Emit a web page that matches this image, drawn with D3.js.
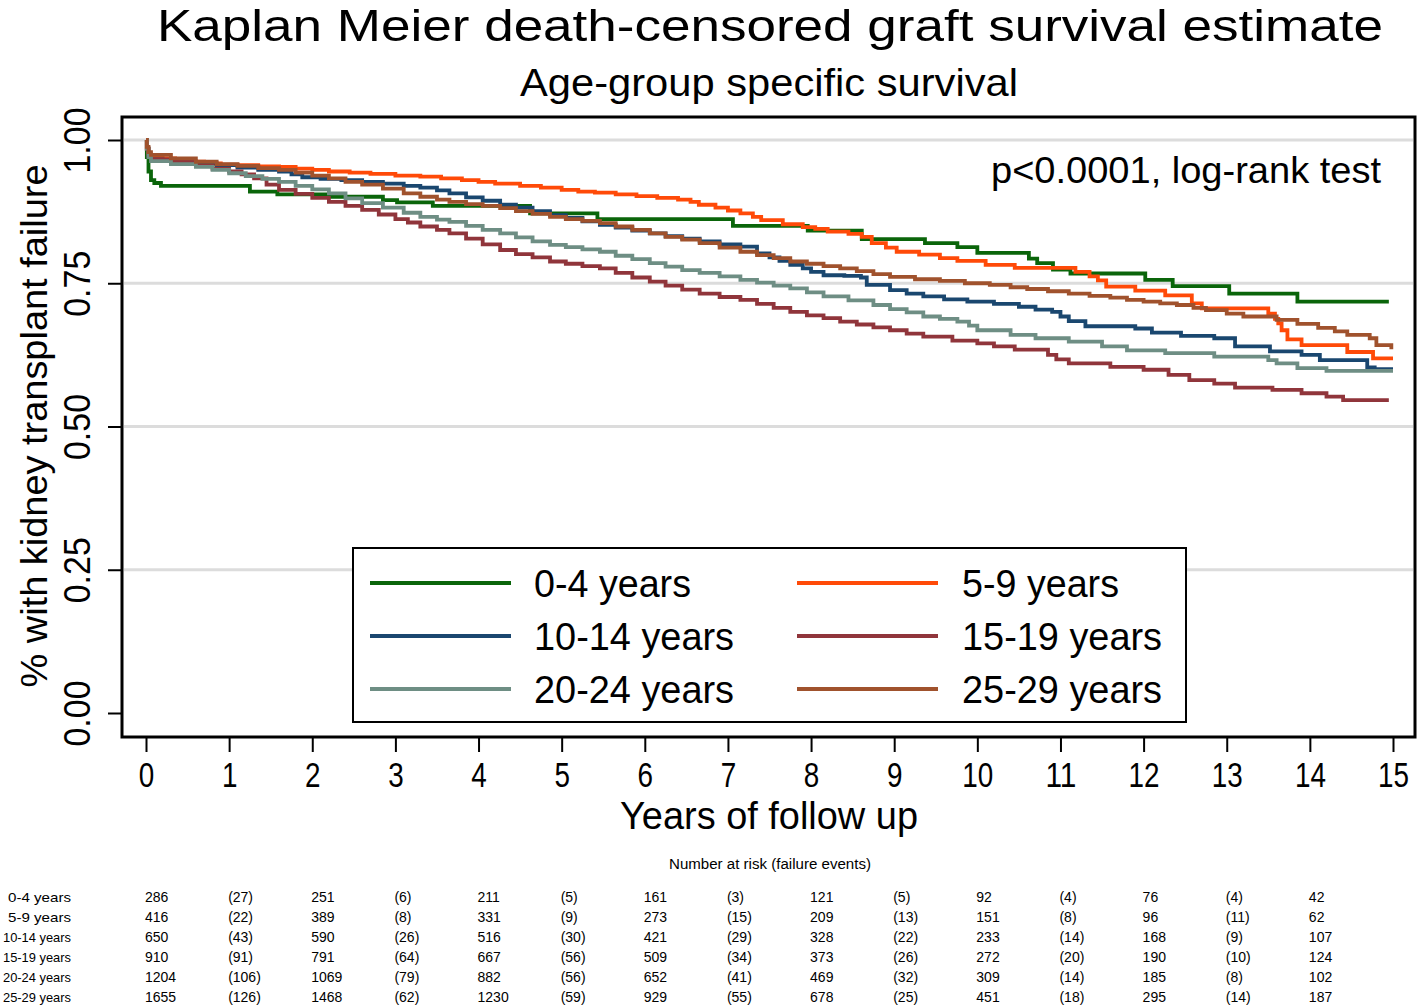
<!DOCTYPE html>
<html><head><meta charset="utf-8">
<script src="https://cdn.jsdelivr.net/npm/d3@7"></script>
<style>
body{margin:0;background:#fff}
svg{display:block}
text{font-family:"Liberation Sans",Arial,Helvetica,sans-serif;fill:#000}
</style>
</head><body>
<svg id="c" width="1418" height="1006"></svg>
<script>
// ---------- data ----------
const groups = ["0-4 years","5-9 years","10-14 years","15-19 years","20-24 years","25-29 years"];
const colors = ["#0a650a","#ff4a08","#1a476f","#90353b","#6e8e84","#a0522d"];

const km04 = [[0,1],[0.01,0.97],[0.03,0.945],[0.06,0.93],[0.1,0.925],[0.18,0.92],[1.25,0.91],[1.58,0.905],[2.21,0.901],[2.85,0.895],[3.02,0.891],[3.45,0.885],[4.62,0.872],[5.43,0.862],[7.06,0.85],[7.96,0.842],[8.61,0.827],[9.37,0.82],[9.76,0.813],[10.0,0.803],[10.62,0.793],[10.72,0.785],[10.91,0.774],[11.12,0.767],[12.02,0.756],[12.35,0.745],[13.03,0.732],[13.85,0.718],[14.95,0.718]];
const km59 = [[0,1],[0.01,0.985],[0.03,0.975],[0.06,0.971],[0.2,0.968],[0.35,0.965],[0.5,0.962],[0.7,0.959],[0.9,0.957],[1.1,0.956],[1.35,0.954],[1.6,0.953],[1.8,0.95],[2.0,0.948],[2.2,0.945],[2.45,0.943],[2.7,0.941],[3.0,0.938],[3.3,0.936],[3.55,0.933],[3.8,0.93],[4.0,0.927],[4.2,0.924],[4.5,0.92],[4.75,0.917],[5.0,0.913],[5.2,0.91],[5.4,0.908],[5.65,0.905],[5.9,0.902],[6.15,0.899],[6.4,0.896],[6.55,0.892],[6.65,0.887],[6.85,0.882],[7.0,0.877],[7.15,0.872],[7.3,0.866],[7.4,0.86],[7.66,0.853],[7.9,0.848],[8.05,0.845],[8.2,0.84],[8.45,0.836],[8.61,0.831],[8.73,0.82],[8.9,0.812],[9.03,0.805],[9.3,0.8],[9.55,0.794],[9.76,0.789],[10.1,0.782],[10.45,0.777],[11.18,0.77],[11.35,0.762],[11.45,0.755],[11.55,0.744],[11.9,0.737],[12.26,0.729],[12.58,0.715],[12.7,0.706],[13.5,0.697],[13.58,0.688],[13.62,0.68],[13.66,0.668],[13.73,0.652],[13.9,0.642],[14.45,0.63],[14.76,0.619],[15,0.619]];
const km1014 = [[0,1],[0.01,0.985],[0.03,0.972],[0.06,0.966],[0.2,0.965],[0.4,0.962],[0.6,0.959],[0.85,0.956],[1.1,0.952],[1.35,0.948],[1.6,0.945],[1.75,0.94],[1.88,0.935],[2.1,0.932],[2.35,0.93],[2.6,0.927],[2.85,0.924],[3.1,0.92],[3.3,0.917],[3.5,0.912],[3.65,0.907],[3.85,0.9],[4.05,0.894],[4.26,0.887],[4.45,0.882],[4.65,0.876],[4.86,0.869],[5.05,0.864],[5.25,0.858],[5.46,0.852],[5.65,0.847],[5.85,0.842],[6.06,0.837],[6.25,0.832],[6.45,0.828],[6.66,0.823],[6.9,0.818],[7.15,0.814],[7.35,0.802],[7.5,0.795],[7.62,0.789],[7.75,0.782],[7.9,0.776],[8.0,0.77],[8.15,0.764],[8.4,0.763],[8.6,0.76],[8.67,0.747],[8.95,0.738],[9.15,0.732],[9.35,0.727],[9.6,0.722],[9.88,0.718],[10.2,0.714],[10.5,0.709],[10.7,0.704],[10.9,0.7],[11.0,0.692],[11.1,0.684],[11.3,0.675],[11.9,0.671],[12.1,0.664],[12.45,0.658],[12.85,0.654],[13.1,0.64],[13.52,0.631],[13.9,0.625],[14.12,0.616],[14.69,0.603],[14.78,0.6],[15,0.6]];
const km1519 = [[0,1],[0.01,0.985],[0.03,0.972],[0.06,0.966],[0.3,0.962],[0.6,0.955],[0.8,0.95],[1.0,0.945],[1.15,0.94],[1.3,0.933],[1.45,0.922],[1.6,0.913],[1.8,0.906],[2.0,0.899],[2.2,0.892],[2.4,0.885],[2.6,0.878],[2.8,0.87],[3.0,0.862],[3.15,0.856],[3.3,0.849],[3.5,0.843],[3.65,0.837],[3.85,0.828],[4.05,0.818],[4.26,0.808],[4.45,0.801],[4.65,0.795],[4.86,0.788],[5.05,0.784],[5.25,0.78],[5.46,0.776],[5.65,0.768],[5.85,0.76],[6.06,0.753],[6.25,0.746],[6.45,0.739],[6.66,0.732],[6.9,0.726],[7.15,0.721],[7.35,0.714],[7.55,0.707],[7.75,0.7],[7.95,0.694],[8.15,0.689],[8.35,0.683],[8.55,0.678],[8.75,0.673],[8.95,0.668],[9.15,0.662],[9.35,0.657],[9.7,0.65],[10.0,0.645],[10.2,0.64],[10.45,0.634],[10.85,0.625],[10.95,0.617],[11.1,0.61],[11.6,0.604],[12.0,0.599],[12.3,0.59],[12.55,0.581],[12.85,0.575],[13.1,0.568],[13.55,0.564],[13.9,0.558],[14.2,0.552],[14.4,0.546],[14.95,0.546]];
const km2024 = [[0,1],[0.01,0.985],[0.03,0.97],[0.06,0.963],[0.3,0.958],[0.6,0.953],[0.8,0.948],[1.0,0.942],[1.2,0.937],[1.4,0.932],[1.6,0.927],[1.8,0.92],[2.0,0.914],[2.2,0.907],[2.4,0.898],[2.6,0.89],[2.85,0.882],[3.1,0.873],[3.3,0.866],[3.5,0.861],[3.65,0.857],[3.85,0.85],[4.05,0.843],[4.26,0.837],[4.45,0.83],[4.65,0.823],[4.86,0.817],[5.05,0.813],[5.25,0.809],[5.46,0.805],[5.65,0.798],[5.85,0.792],[6.06,0.785],[6.25,0.779],[6.45,0.773],[6.66,0.768],[6.9,0.762],[7.15,0.756],[7.35,0.751],[7.55,0.746],[7.75,0.741],[7.95,0.734],[8.15,0.727],[8.45,0.72],[8.75,0.712],[8.95,0.705],[9.15,0.699],[9.35,0.692],[9.55,0.688],[9.76,0.683],[9.9,0.676],[10.0,0.668],[10.4,0.66],[10.7,0.654],[11.1,0.648],[11.5,0.64],[11.8,0.633],[12.26,0.628],[12.85,0.622],[13.5,0.616],[13.6,0.61],[13.85,0.602],[14.2,0.597],[15,0.597]];
const km2529 = [[0,1],[0.01,0.988],[0.03,0.979],[0.06,0.974],[0.3,0.968],[0.6,0.962],[0.85,0.958],[1.1,0.955],[1.35,0.951],[1.6,0.948],[1.8,0.943],[2.0,0.938],[2.2,0.933],[2.4,0.927],[2.6,0.922],[2.85,0.915],[3.1,0.907],[3.3,0.901],[3.5,0.896],[3.65,0.892],[3.85,0.888],[4.05,0.885],[4.26,0.881],[4.45,0.876],[4.65,0.871],[4.86,0.866],[5.05,0.862],[5.25,0.859],[5.46,0.855],[5.65,0.849],[5.85,0.843],[6.06,0.837],[6.25,0.831],[6.45,0.826],[6.66,0.82],[6.9,0.812],[7.15,0.805],[7.35,0.799],[7.55,0.794],[7.75,0.788],[7.95,0.784],[8.15,0.78],[8.35,0.776],[8.55,0.771],[8.75,0.766],[8.95,0.761],[9.25,0.757],[9.55,0.754],[9.85,0.75],[10.15,0.747],[10.4,0.743],[10.6,0.74],[10.85,0.736],[11.1,0.732],[11.35,0.728],[11.6,0.725],[11.8,0.721],[12.0,0.718],[12.2,0.715],[12.4,0.712],[12.6,0.707],[12.75,0.703],[13.0,0.697],[13.2,0.692],[13.6,0.686],[13.85,0.679],[14.1,0.672],[14.3,0.666],[14.45,0.66],[14.72,0.654],[14.8,0.642],[14.98,0.635]];
const curves = [km04, km59, km1014, km1519, km2024, km2529];

const yTicks = [0, 0.25, 0.5, 0.75, 1];
const xTicks = d3.range(0, 16);

// number at risk (even years) and failure events (odd years)
const riskYears = [0,2,4,6,8,10,12,14];
const eventYears = [1,3,5,7,9,11,13];
const atRisk = [
  [286,251,211,161,121,92,76,42],
  [416,389,331,273,209,151,96,62],
  [650,590,516,421,328,233,168,107],
  [910,791,667,509,373,272,190,124],
  [1204,1069,882,652,469,309,185,102],
  [1655,1468,1230,929,678,451,295,187]
];
const events = [
  [27,6,5,3,5,4,4],
  [22,8,9,15,13,8,11],
  [43,26,30,29,22,14,9],
  [91,64,56,34,26,20,10],
  [106,79,56,41,32,14,8],
  [126,62,59,55,25,18,14]
];

// ---------- drawing ----------
const svg = d3.select("#c");
const L = 122, R = 1415, T = 117, B = 737;
const x = d3.scaleLinear().domain([0, 15]).range([146, 1393]);
const y = d3.scaleLinear().domain([0, 1]).range([713, 140]);

function fitText(sel, w) {
  sel.attr("textLength", w).attr("lengthAdjust", "spacingAndGlyphs");
  return sel;
}

// titles
fitText(svg.append("text").attr("x", 770).attr("y", 41).attr("text-anchor", "middle")
  .attr("font-size", 45).text("Kaplan Meier death-censored graft survival estimate"), 1226);
fitText(svg.append("text").attr("x", 769).attr("y", 96).attr("text-anchor", "middle")
  .attr("font-size", 39).text("Age-group specific survival"), 498);

// gridlines
svg.append("g").selectAll("line").data(yTicks.filter(d => d > 0)).join("line")
  .attr("x1", L + 2).attr("x2", R - 2).attr("y1", d => y(d)).attr("y2", d => y(d))
  .attr("stroke", "#dcdcdc").attr("stroke-width", 3);

// curves
const line = d3.line().x(d => x(d[0])).y(d => y(d[1])).curve(d3.curveStepAfter);
svg.append("g").selectAll("path").data(curves).join("path")
  .attr("d", line).attr("fill", "none")
  .attr("stroke", (d, i) => colors[i]).attr("stroke-width", 3.8)
  .attr("stroke-linejoin", "miter");

// frame
svg.append("rect").attr("x", L).attr("y", T).attr("width", R - L).attr("height", B - T)
  .attr("fill", "none").attr("stroke", "#000").attr("stroke-width", 3);

// y axis
const yAx = svg.append("g").attr("transform", `translate(${L},0)`)
  .call(d3.axisLeft(y).tickValues(yTicks).tickFormat(d3.format(".2f")).tickSize(14));
yAx.select(".domain").remove();
yAx.selectAll(".tick line").attr("stroke", "#000").attr("stroke-width", 2);
yAx.selectAll(".tick text").attr("x", null).attr("dy", null).attr("fill", "#000")
  .attr("font-size", 36).attr("text-anchor", "middle")
  .attr("transform", "translate(-32,0) rotate(-90)")
  .attr("textLength", 66).attr("lengthAdjust", "spacingAndGlyphs");

// x axis
const xAx = svg.append("g").attr("transform", `translate(0,${B})`)
  .call(d3.axisBottom(x).tickValues(xTicks).tickFormat(d3.format("d")).tickSize(15));
xAx.select(".domain").remove();
xAx.selectAll(".tick line").attr("stroke", "#000").attr("stroke-width", 2);
xAx.selectAll(".tick text").attr("y", 50).attr("dy", null).attr("fill", "#000")
  .attr("font-size", 35)
  .each(function(d){ d3.select(this).attr("textLength", String(d).length*15.5).attr("lengthAdjust","spacingAndGlyphs"); });

// axis titles
fitText(svg.append("text").attr("x", 769).attr("y", 829).attr("text-anchor", "middle")
  .attr("font-size", 38).text("Years of follow up"), 298);
fitText(svg.append("text").attr("transform", "translate(47,426) rotate(-90)").attr("text-anchor", "middle")
  .attr("font-size", 36).text("% with kidney transplant failure"), 523);

// p-value
fitText(svg.append("text").attr("x", 1381).attr("y", 183).attr("text-anchor", "end")
  .attr("font-size", 36).text("p<0.0001, log-rank test"), 390);

// legend
const lg = svg.append("g");
lg.append("rect").attr("x", 353).attr("y", 548).attr("width", 833).attr("height", 174)
  .attr("fill", "#fff").attr("stroke", "#000").attr("stroke-width", 2);
const legX = [370, 797], legTX = [534, 962], legY = [583, 636, 689];
groups.forEach((g, i) => {
  const c = i % 2, r = Math.floor(i / 2);
  lg.append("line").attr("x1", legX[c]).attr("x2", legX[c] + 141)
    .attr("y1", legY[r]).attr("y2", legY[r]).attr("stroke", colors[i]).attr("stroke-width", 3.8);
  fitText(lg.append("text").attr("x", legTX[c]).attr("y", legY[r] + 14)
    .attr("font-size", 38).text(g), g.length === 9 ? 157 : 200);
});

// risk table
const rt = svg.append("g").attr("font-size", 14);
fitText(rt.append("text").attr("x", 770).attr("y", 869).attr("text-anchor", "middle")
  .attr("font-size", 14).text("Number at risk (failure events)"), 202);
const rowY = [902, 922, 942, 962, 982, 1002];
groups.forEach((g, i) => {
  fitText(rt.append("text").attr("x", 71).attr("y", rowY[i]).attr("text-anchor", "end")
    .attr("font-size", 13.5).text(g), g.length === 9 ? 63 : 68);
  atRisk[i].forEach((v, k) => {
    rt.append("text").attr("x", x(riskYears[k]) - 1).attr("y", rowY[i]).text(v);
  });
  events[i].forEach((v, k) => {
    rt.append("text").attr("x", x(eventYears[k]) - 1).attr("y", rowY[i]).text("(" + v + ")");
  });
});
</script>
</body></html>
